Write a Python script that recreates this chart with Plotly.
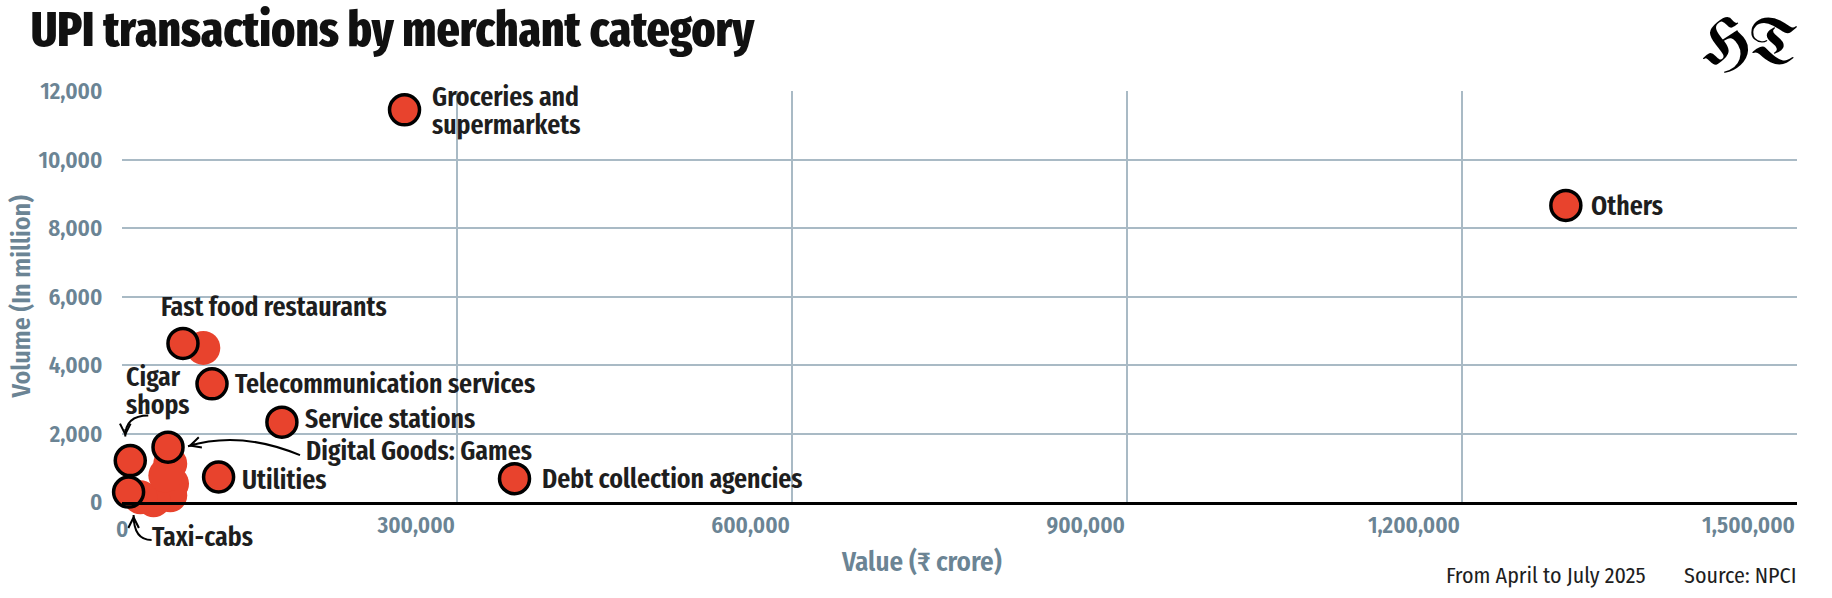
import plotly.graph_objects as go

# ---------------- data ----------------
labelled_names = ["Groceries and<br>supermarkets", "Others", "Fast food restaurants",
                  "Telecommunication services", "Service stations", "Digital Goods: Games",
                  "Cigar<br>shops", "Taxi-cabs", "Utilities", "Debt collection agencies"]
labelled_value = [253000, 1293000, 54600, 80600, 143200, 41200, 7400, 5900, 86500, 351500]
labelled_volume = [11450, 8660, 4630, 3450, 2330, 1600, 1210, 290, 730, 680]

unlabelled_value = [72800, 43200, 44800, 43200, 28300, 16400, 38800]
unlabelled_volume = [4500, 1118, 536, 195, 50, 137, 777]

x_ticks = [0, 300000, 600000, 900000, 1200000, 1500000]
y_ticks = [0, 2000, 4000, 6000, 8000, 10000, 12000]

RED = "#E8432D"
SLATE = "#6B8494"
GRID = "#A9BAC5"
INK = "#1E1E1E"
FONT = "Fira Sans Condensed, Fira Sans Extra Condensed, Roboto Condensed, sans-serif"
XFONT = "Fira Sans Extra Condensed, Fira Sans Condensed, Roboto Condensed, sans-serif"

W, H = 1832, 598
ML, MR, MT, MB = 122, 35, 91, 96
XMAX, YMAX = 1500000, 12000
PW, PH = W - ML - MR, H - MT - MB


def off_paper(x, y, dx, dy):
    """data point (x,y) shifted by dx,dy screen pixels (dy down), in paper coords"""
    return x / XMAX + dx / PW, y / YMAX - dy / PH


fig = go.Figure()
fig.add_trace(go.Scatter(x=unlabelled_value, y=unlabelled_volume, mode="markers",
                         marker=dict(size=34, color=RED, line=dict(width=0)),
                         cliponaxis=False, hoverinfo="skip", showlegend=False))
fig.add_trace(go.Scatter(x=labelled_value, y=labelled_volume, mode="markers",
                         marker=dict(size=30, color=RED, line=dict(width=3.5, color="black")),
                         cliponaxis=False, showlegend=False))

# label placement: (xshift, yshift of first line) in px relative to the point
label_shift = {
    "Groceries and<br>supermarkets": (25, 13),
    "Others": (23, 0),
    "Fast food restaurants": (-24, 37),
    "Telecommunication services": (21, 0),
    "Service stations": (21, 4),
    "Digital Goods: Games": (136, -3),
    "Cigar<br>shops": (-6, 84),
    "Taxi-cabs": (21, -44),
    "Utilities": (21, -2),
    "Debt collection agencies": (25, 0),
}
LINE = 28
for name, xv, yv in zip(labelled_names, labelled_value, labelled_volume):
    sx, sy = label_shift[name]
    for k, line in enumerate(name.split("<br>")):
        fig.add_annotation(x=xv, y=yv, text=line, showarrow=False, xanchor="left", yanchor="middle",
                           align="left", xshift=sx, yshift=sy - k * LINE,
                           font=dict(size=28, color=INK, family=XFONT, weight=600))

# curved pointer arrows (px offsets from the point: tail, control, tip)
arrows = {
    "Cigar<br>shops": ((18, -45), (-5, -45), (-5, -24)),
    "Taxi-cabs": ((23, 48), (5, 48), (5, 23)),
    "Digital Goods: Games": ((132, 8), (72, -17), (20, -1)),
}
for name, (p0, pc, p1) in arrows.items():
    i = labelled_names.index(name)
    xv, yv = labelled_value[i], labelled_volume[i]
    a0, ac, a1 = off_paper(xv, yv, *p0), off_paper(xv, yv, *pc), off_paper(xv, yv, *p1)
    fig.add_shape(type="path", xref="paper", yref="paper", layer="above",
                  path=f"M {a0[0]},{a0[1]} Q {ac[0]},{ac[1]} {a1[0]},{a1[1]}",
                  line=dict(color="black", width=2))
    dx, dy = p1[0] - pc[0], p1[1] - pc[1]
    n = (dx * dx + dy * dy) ** 0.5
    fig.add_annotation(x=a1[0], y=a1[1], xref="paper", yref="paper", text="", showarrow=True,
                       arrowhead=5, arrowsize=1.3, arrowwidth=1.6, arrowcolor="black",
                       ax=-9 * dx / n, ay=-9 * dy / n)

# x tick labels: right-aligned to their tick, the "0" centred on the axis
x_ticktext = ["" if v == 0 else f"{v:,}" for v in x_ticks]
fig.add_annotation(text=f"{x_ticks[0]:,}", x=x_ticks[0], y=0, xref="x", yref="y", yshift=-27,
                   xanchor="center", yanchor="middle", showarrow=False,
                   font=dict(size=23, color=SLATE, family=FONT, weight=600))

# titles / notes
fig.add_annotation(text="Volume (In million)", xref="paper", yref="paper", x=0, y=0.5,
                   xshift=-101, xanchor="center", yanchor="middle", textangle=-90, showarrow=False,
                   font=dict(size=26, color=SLATE, family=FONT, weight=600))
fig.add_annotation(text="Value (₹ crore)", xref="paper", yref="paper", x=(921 - ML) / PW, y=0,
                   yshift=-60, xanchor="center", yanchor="middle", showarrow=False,
                   font=dict(size=27, color=SLATE, family=FONT, weight=600))
fig.add_annotation(text="From April to July 2025", xref="paper", yref="paper", x=(1647 - ML) / PW,
                   y=0, yshift=-73, xanchor="right", yanchor="middle", showarrow=False,
                   font=dict(size=22, color=INK, family=FONT, weight=400))
fig.add_annotation(text="Source: NPCI", xref="paper", yref="paper", x=1, xshift=2,
                   y=0, yshift=-73, xanchor="right", yanchor="middle", showarrow=False,
                   font=dict(size=22, color=INK, family=FONT, weight=400))
fig.add_annotation(text="HT", xref="paper", yref="paper", x=1, xshift=3, y=1, yshift=45,
                   xanchor="right", yanchor="middle", showarrow=False,
                   font=dict(size=65, color="black",
                             family="UnifrakturMaguntia, UnifrakturCook, Pirata One, serif"))

fig.update_layout(
    width=W, height=H,
    margin=dict(l=ML, r=MR, t=MT, b=MB),
    paper_bgcolor="white", plot_bgcolor="white",
    font=dict(family=FONT),
    title=dict(text="UPI transactions by merchant category", xref="container", yref="container",
               x=31 / W, xanchor="left", y=1 - 29 / H, yanchor="middle",
               font=dict(size=49, color="#111111", family=XFONT, weight=800)),
    xaxis=dict(range=[0, XMAX], tickvals=x_ticks, ticktext=x_ticktext,
               showgrid=True, gridcolor=GRID, gridwidth=1.5,
               zeroline=False, showline=True, linecolor="black", linewidth=3,
               ticks="outside", ticklen=8, tickcolor="rgba(0,0,0,0)",
               ticklabelposition="outside left",
               tickfont=dict(size=23, color=SLATE, family=FONT, weight=600)),
    yaxis=dict(range=[0, YMAX], tickvals=y_ticks, tickformat=",d",
               showgrid=True, gridcolor=GRID, gridwidth=1.5, zeroline=False,
               ticks="outside", ticklen=14, tickcolor="rgba(0,0,0,0)",
               tickfont=dict(size=23, color=SLATE, family=FONT, weight=600)),
)

fig.write_html("out.html")
